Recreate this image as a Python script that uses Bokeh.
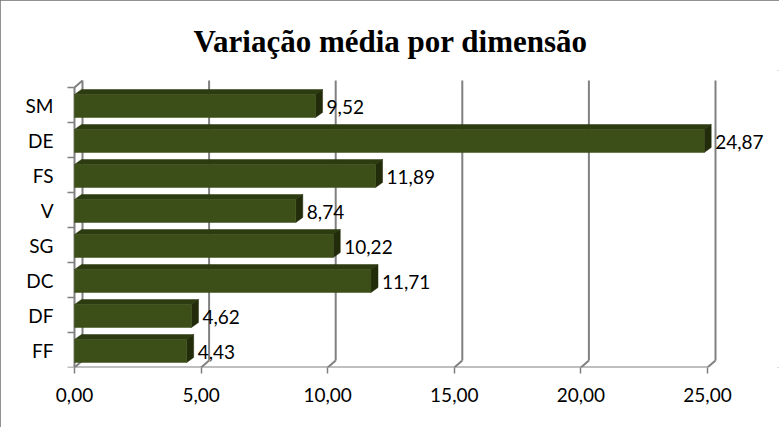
from bokeh.plotting import figure
from bokeh.models import Range1d, FixedTicker, ColumnDataSource, Title
from bokeh.core.properties import value
from bokeh.embed import file_html
from bokeh.resources import INLINE

# ---- data ----
categories = ["FF", "DF", "DC", "SG", "V", "FS", "DE", "SM"]  # bottom to top
values = [4.43, 4.62, 11.71, 10.22, 8.74, 11.89, 24.87, 9.52]
value_labels = ["4,43", "4,62", "11,71", "10,22", "8,74", "11,89", "24,87", "9,52"]
x_ticks = [0, 5, 10, 15, 20, 25]
x_tick_labels = ["0,00", "5,00", "10,00", "15,00", "20,00", "25,00"]
title_text = "Variação média por dimensão"

# ---- geometry (pixels -> data) ----
W, H = 779, 427
frame_left, frame_right = 60, 779
frame_top, frame_bottom = 70, 367
px_per_x = 25.32
px_per_y = 35.0
x0_px = 74
x_start = -(x0_px - frame_left) / px_per_x
x_end = x_start + (frame_right - frame_left) / px_per_x
y_end = (frame_bottom - frame_top) / px_per_y

wall_dx, wall_dy = 8 / px_per_x, 7 / px_per_y
bar_dx, bar_dy = 7 / px_per_x, 5 / px_per_y
bar_bot_off, bar_top_off = 0.143, 0.80

n = len(categories)
axis_col = "#808080"
front_col = "#3d4f19"
top_col = "#2d3b10"
side_col = "#222c0a"
font = "Lato"

p = figure(width=W, height=H, output_backend="svg", toolbar_location=None,
           x_range=Range1d(x_start, x_end), y_range=Range1d(0, y_end),
           min_border_left=frame_left, min_border_right=W - frame_right,
           min_border_top=frame_top, min_border_bottom=H - frame_bottom)
p.outline_line_color = None
p.grid.visible = False
p.background_fill_color = "white"
p.border_fill_color = "white"
p.styles = {"outline": "2px solid #6e6e6e", "outline-offset": "-2px"}

p.title = Title(text=title_text, align="left", offset=133, standoff=24,
                text_font="Liberation Serif", text_font_size="31px",
                text_font_style="bold", text_color="black")

# ---- back wall gridlines and floor diagonals ----
top_wall = n + wall_dy
p.segment(x0=[t + wall_dx for t in x_ticks], y0=[wall_dy] * len(x_ticks),
          x1=[t + wall_dx for t in x_ticks], y1=[top_wall] * len(x_ticks),
          line_color=axis_col, line_width=2)
p.segment(x0=x_ticks, y0=[0] * len(x_ticks),
          x1=[t + wall_dx for t in x_ticks], y1=[wall_dy] * len(x_ticks),
          line_color=axis_col, line_width=2)
# left front axis and its top diagonal
p.segment(x0=[0, 0], y0=[0, n], x1=[0, wall_dx], y1=[n, n + wall_dy],
          line_color=axis_col, line_width=2)
# bottom axis line
p.segment(x0=[0], y0=[0], x1=[x_ticks[-1]], y1=[0], line_color=axis_col, line_width=2)
# y boundary ticks
tick_len = 7 / px_per_x
p.segment(x0=[-tick_len] * (n + 1), y0=list(range(n + 1)),
          x1=[0] * (n + 1), y1=list(range(n + 1)), line_color=axis_col, line_width=1.5)

# ---- bars ----
bottoms = [i + bar_bot_off for i in range(n)]
tops = [i + bar_top_off for i in range(n)]
top_xs = [[0, v, v + bar_dx, bar_dx] for v in values]
top_ys = [[t, t, t + bar_dy, t + bar_dy] for t in tops]
side_xs = [[v, v, v + bar_dx, v + bar_dx] for v in values]
side_ys = [[b, t, t + bar_dy, b + bar_dy] for b, t in zip(bottoms, tops)]
p.patches(xs=top_xs, ys=top_ys, fill_color=top_col, line_color=top_col, line_width=0.5)
p.patches(xs=side_xs, ys=side_ys, fill_color=side_col, line_color=side_col, line_width=0.5)
p.quad(left=[0] * n, right=values, bottom=bottoms, top=tops,
       fill_color=front_col, line_color=front_col, line_width=0.5)

# ---- value labels ----
src = ColumnDataSource(dict(x=[v + bar_dx for v in values],
                            y=[(b + t) / 2 for b, t in zip(bottoms, tops)],
                            text=value_labels))
p.text(x="x", y="y", text="text", source=src, x_offset=4, y_offset=1,
       text_baseline="middle", text_align="left", text_font=value(font),
       text_font_size="19px", text_color="black")

# ---- axes ----
p.xaxis.ticker = FixedTicker(ticks=x_ticks)
p.xaxis.major_label_overrides = {t: l for t, l in zip(x_ticks, x_tick_labels)}
p.xaxis.axis_line_color = None
p.xaxis.minor_tick_line_color = None
p.xaxis.major_tick_line_color = axis_col
p.xaxis.major_tick_line_width = 1.5
p.xaxis.major_tick_out = 6
p.xaxis.major_tick_in = 0
p.xaxis.major_label_standoff = 14
p.xaxis.major_label_text_font = font
p.xaxis.major_label_text_font_size = "19px"
p.xaxis.major_label_text_color = "black"

centers = [i + 0.5 for i in range(n)]
p.yaxis.ticker = FixedTicker(ticks=centers)
p.yaxis.major_label_overrides = {c: l for c, l in zip(centers, categories)}
p.yaxis.axis_line_color = None
p.yaxis.minor_tick_line_color = None
p.yaxis.major_tick_line_color = None
p.yaxis.major_tick_out = 0
p.yaxis.major_tick_in = 0
p.yaxis.major_label_standoff = 7
p.yaxis.major_label_text_font = font
p.yaxis.major_label_text_font_size = "19px"
p.yaxis.major_label_text_color = "black"

open("out.html", "w").write(file_html(p, INLINE))
